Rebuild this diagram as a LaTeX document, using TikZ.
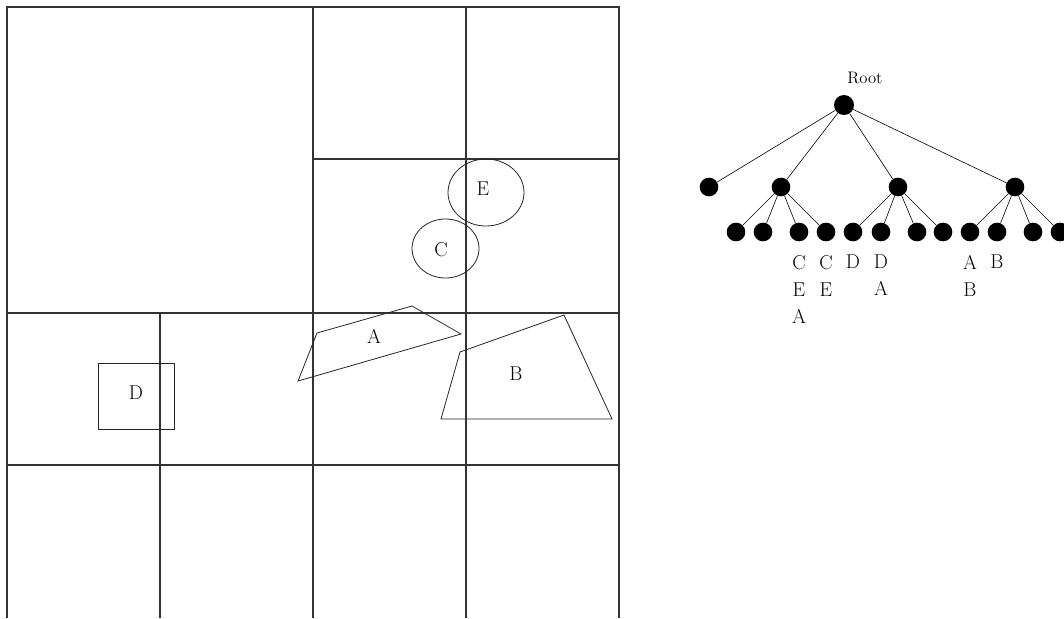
\documentclass[tikz,border=0pt]{standalone}
\usepackage{tikz}
\usetikzlibrary{positioning}

\begin{document}
\begin{tikzpicture}[
    x=0.75pt, y=-0.75pt,
    gridLine/.style={draw=black!80, line width=0.8pt},
    shapeLine/.style={draw=black!85, line width=0.6pt},
    regionLabel/.style={inner sep=0pt, font=\fontsize{15}{17}\selectfont},
    treeNode/.style={circle, fill=black, inner sep=0pt, minimum size=14pt},
    treeEdge/.style={draw=black, line width=0.45pt},
    leafLabel/.style={inner sep=0pt, align=center,
        font=\fontsize{15}{20.25}\selectfont}
]
    \useasboundingbox (0,0) rectangle (1064,618);

    % Quadtree subdivision
    \draw[gridLine] (7,618) -- (7,7) -- (619,7) -- (619,618);
    \draw[gridLine] (313,7) -- (313,618);
    \draw[gridLine] (466,7) -- (466,618);
    \draw[gridLine] (160,313) -- (160,618);
    \draw[gridLine] (313,159) -- (619,159);
    \draw[gridLine] (7,313) -- (619,313);
    \draw[gridLine] (7,465) -- (619,465);

    % Objects
    \draw[shapeLine] (298,381) -- (317,333) -- (412,306) -- (461,334) -- cycle;
    \node[regionLabel] (labA) at (374,336) {A};

    \draw[shapeLine] (441,419) -- (460,352) -- (564,315) -- (612,419) -- cycle;
    \node[regionLabel] (labB) at (516,374) {B};

    \draw[shapeLine] (445.5,248.5) ellipse [x radius=33.5, y radius=29.5];
    \node[regionLabel] (labC) at (441,250) {C};

    \draw[shapeLine] (486,192.5) ellipse [x radius=38, y radius=33.5];
    \node[regionLabel] (labE) at (483,189) {E};

    \draw[shapeLine] (98,363) rectangle (174,429);
    \node[regionLabel] (labD) at (136,393) {D};

    % Tree
    \node[font=\fontsize{12.5}{14}\selectfont, inner sep=0pt] (rootText) at (865,78) {Root};
    \node[treeNode, minimum size=15pt] (root) at (844,105) {};

    \foreach \name/\xx in {n1/709, n2/781, n3/898, n4/1015}
        \node[treeNode] (\name) at (\xx,187) {};

    \foreach \name/\xx in {l1/736, l2/763, l3/799, l4/826,
                           l5/853, l6/881, l7/917, l8/943,
                           l9/970, l10/997, l11/1033, l12/1060}
        \node[treeNode] (\name) at (\xx,232) {};

    \foreach \kid in {n1, n2, n3, n4}
        \draw[treeEdge] (root) -- (\kid);
    \foreach \kid in {l1, l2, l3, l4}
        \draw[treeEdge] (n2) -- (\kid);
    \foreach \kid in {l5, l6, l7, l8}
        \draw[treeEdge] (n3) -- (\kid);
    \foreach \kid in {l9, l10, l11, l12}
        \draw[treeEdge] (n4) -- (\kid);

    % Objects stored at the leaves
    \node[leafLabel, below=10pt of l3] (set3) {C\\E\\A};
    \node[leafLabel, below=10pt of l4] (set4) {C\\E};
    \node[leafLabel, below=10pt of l5] (set5) {D};
    \node[leafLabel, below=10pt of l6] (set6) {D\\A};
    \node[leafLabel, below=10pt of l9] (set9) {A\\B};
    \node[leafLabel, below=10pt of l10] (set10) {B};

\end{tikzpicture}
\end{document}
